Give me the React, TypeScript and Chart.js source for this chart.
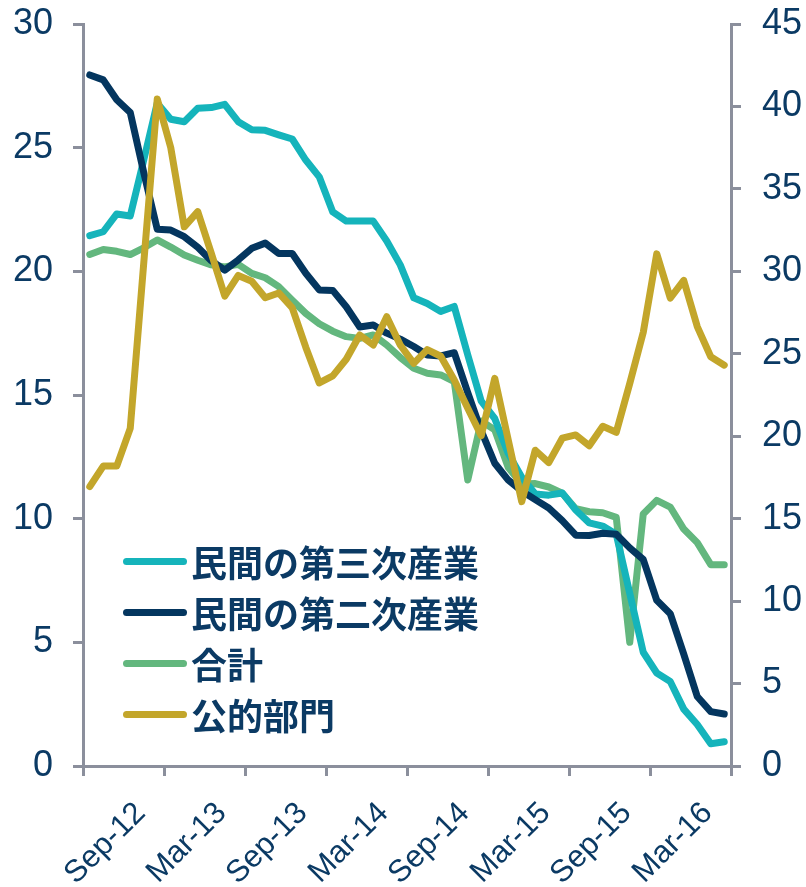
import React, { useEffect, useRef } from 'react';
import { Chart, registerables } from 'chart.js';

Chart.register(...registerables);

const months = [
  'Sep-12', 'Oct-12', 'Nov-12', 'Dec-12',
  'Jan-13', 'Feb-13', 'Mar-13', 'Apr-13', 'May-13', 'Jun-13', 'Jul-13', 'Aug-13', 'Sep-13', 'Oct-13', 'Nov-13', 'Dec-13',
  'Jan-14', 'Feb-14', 'Mar-14', 'Apr-14', 'May-14', 'Jun-14', 'Jul-14', 'Aug-14', 'Sep-14', 'Oct-14', 'Nov-14', 'Dec-14',
  'Jan-15', 'Feb-15', 'Mar-15', 'Apr-15', 'May-15', 'Jun-15', 'Jul-15', 'Aug-15', 'Sep-15', 'Oct-15', 'Nov-15', 'Dec-15',
  'Jan-16', 'Feb-16', 'Mar-16', 'Apr-16', 'May-16', 'Jun-16', 'Jul-16', 'Aug-16',
];

const tickLabels = ['Sep-12', 'Mar-13', 'Sep-13', 'Mar-14', 'Sep-14', 'Mar-15', 'Sep-15', 'Mar-16'];

const seriesNames = ['民間の第三次産業', '民間の第二次産業', '合計', '公的部門'];

const privateTertiary = [
  21.44, 21.6, 22.32, 22.24, 24.5, 26.8, 26.15, 26.05, 26.59, 26.62, 26.75, 26.05,
  25.72, 25.7, 25.52, 25.35, 24.5, 23.82, 22.4, 22.03, 22.03, 22.03, 21.23, 20.26,
  18.93, 18.7, 18.38, 18.58, 16.62, 14.75, 14.05, 12.64, 11.68, 11.0, 10.95, 11.04,
  10.35, 9.83, 9.7, 9.37, 6.98, 4.6, 3.76, 3.42, 2.3, 1.68, 0.9, 0.98,
];

const privateSecondary = [
  27.94, 27.74, 26.94, 26.42, 24.0, 21.7, 21.67, 21.4, 20.97, 20.43, 20.05, 20.46,
  20.93, 21.14, 20.72, 20.72, 19.92, 19.25, 19.23, 18.57, 17.75, 17.83, 17.5, 17.26,
  16.96, 16.62, 16.58, 16.71, 15.1, 13.55, 12.24, 11.56, 11.12, 10.77, 10.43, 9.92,
  9.33, 9.32, 9.41, 9.37, 8.82, 8.35, 6.7, 6.16, 4.52, 2.81, 2.2, 2.1,
];

const total = [
  20.68, 20.88, 20.81, 20.68, 20.95, 21.27, 20.98, 20.66, 20.45, 20.26, 20.18, 20.28,
  19.92, 19.74, 19.38, 18.83, 18.3, 17.88, 17.58, 17.36, 17.29, 17.43, 17.02, 16.52,
  16.08, 15.88, 15.81, 15.54, 11.56, 13.95, 13.59, 12.07, 11.4, 11.42, 11.28, 11.03,
  10.4, 10.28, 10.24, 10.05, 5.0, 10.19, 10.74, 10.47, 9.58, 9.03, 8.14, 8.14,
];

const publicSector = [
  16.94, 18.19, 18.19, 20.48, 30.5, 40.45, 37.5, 32.7, 33.62, 31.1, 28.5, 29.75,
  29.4, 28.4, 28.69, 27.79, 25.4, 23.23, 23.66, 24.67, 26.14, 25.53, 27.25, 25.53,
  24.42, 25.25, 24.85, 23.41, 21.69, 20.03, 23.51, 19.77, 16.03, 19.15, 18.4, 19.88,
  20.08, 19.42, 20.6, 20.24, 23.2, 26.3, 31.06, 28.38, 29.45, 26.65, 24.82, 24.31,
];

const TEAL = '#15B4BB';
const NAVY = '#04365F';
const GREEN = '#63B77E';
const GOLD = '#C3A62B';
const AXIS = '#8B8F9C';
const TEXT = '#0B3A64';
const colors = [TEAL, NAVY, GREEN, GOLD];

const W = 806;
const H = 887;
const FONT = "'Liberation Sans', Arial, sans-serif";

export default function App() {
  const ref = useRef<HTMLCanvasElement>(null);

  useEffect(() => {
    const line = {
      borderWidth: 7,
      pointRadius: 0,
      tension: 0,
      fill: false,
      borderJoinStyle: 'round' as const,
      borderCapStyle: 'round' as const,
    };
    const xTickColor = (c: any) => (c.tick ? (c.index % 6 === 0 ? AXIS : 'rgba(0,0,0,0)') : AXIS);
    const chart = new Chart(ref.current as HTMLCanvasElement, {
      type: 'line',
      data: {
        labels: months,
        datasets: [
          { label: seriesNames[0], data: privateTertiary, borderColor: TEAL, yAxisID: 'y', order: 2, ...line },
          { label: seriesNames[1], data: privateSecondary, borderColor: NAVY, yAxisID: 'y', order: 1, ...line },
          { label: seriesNames[2], data: total, borderColor: GREEN, yAxisID: 'y', order: 3, ...line },
          { label: seriesNames[3], data: publicSector, borderColor: GOLD, yAxisID: 'y1', order: 0, ...line },
        ],
      },
      options: {
        responsive: false,
        animation: false,
        devicePixelRatio: 1,
        layout: { padding: { top: 24, left: 0, right: 0, bottom: 0 } },
        plugins: { legend: { display: false }, tooltip: { enabled: false } },
        scales: {
          x: {
            type: 'category',
            offset: true,
            grid: {
              offset: true,
              drawOnChartArea: false,
              drawTicks: true,
              tickLength: 10,
              lineWidth: 3,
              color: xTickColor,
              tickColor: xTickColor,
            },
            border: { display: true, color: AXIS, width: 3 },
            ticks: {
              autoSkip: false,
              minRotation: 45,
              maxRotation: 45,
              labelOffset: 51,
              padding: 19,
              color: TEXT,
              font: { family: FONT, size: 31 },
              callback: (_v: any, i: number) => (tickLabels.includes(months[i]) ? months[i] : ''),
            },
            afterFit: (s: any) => {
              s.height = H - 766;
              s.paddingLeft = 0;
              s.paddingRight = 0;
            },
          },
          y: {
            position: 'left',
            min: 0,
            max: 30,
            grid: { drawOnChartArea: false, drawTicks: true, tickLength: 10, lineWidth: 3, color: AXIS, tickColor: AXIS },
            border: { display: true, color: AXIS, width: 3 },
            ticks: {
              stepSize: 5,
              padding: 20,
              color: TEXT,
              font: { family: FONT, size: 36 },
            },
            afterFit: (s: any) => {
              s.width = 83;
              s.paddingTop = 0;
              s.paddingBottom = 0;
            },
          },
          y1: {
            position: 'right',
            min: 0,
            max: 45,
            grid: { drawOnChartArea: false, drawTicks: true, tickLength: 10, lineWidth: 3, color: AXIS, tickColor: AXIS },
            border: { display: true, color: AXIS, width: 3 },
            ticks: {
              stepSize: 5,
              padding: 21,
              color: TEXT,
              font: { family: FONT, size: 36 },
            },
            afterFit: (s: any) => {
              s.width = W - 731;
              s.paddingTop = 0;
              s.paddingBottom = 0;
            },
          },
        },
      },
    });
    return () => chart.destroy();
  }, []);

  return (
    <div style={{ position: 'fixed', left: 0, top: 0, width: W, height: H, background: '#fff', overflow: 'hidden' }}>
      <canvas ref={ref} width={W} height={H} style={{ display: 'block', width: W, height: H }} />
      <div style={{ position: 'absolute', left: 123, top: 536 }}>
        {seriesNames.map((name, i) => (
          <div key={name} style={{ display: 'flex', alignItems: 'center', height: 51 }}>
            <span
              style={{
                display: 'inline-block',
                width: 64,
                height: 7,
                borderRadius: 3.5,
                background: colors[i],
                marginRight: 4,
              }}
            />
            <span
              style={{
                fontFamily: "'Noto Sans CJK JP', sans-serif",
                fontWeight: 700,
                fontSize: 36,
                lineHeight: '51px',
                color: TEXT,
                whiteSpace: 'nowrap',
              }}
            >
              {name}
            </span>
          </div>
        ))}
      </div>
    </div>
  );
}
